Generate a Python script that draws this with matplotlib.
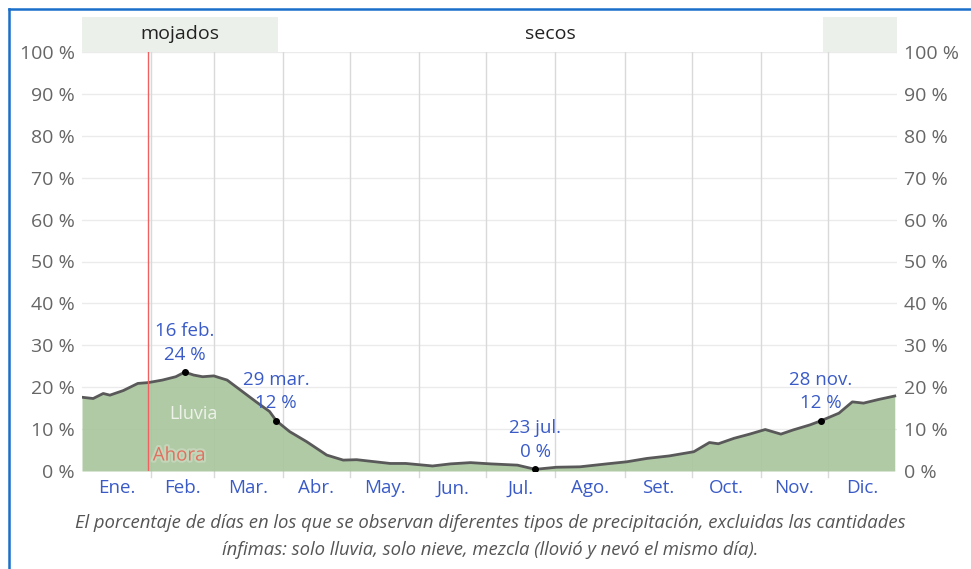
import matplotlib.pyplot as plt
import matplotlib.patheffects as pe
from matplotlib.patches import Rectangle
from matplotlib.lines import Line2D

plt.rcParams['font.family'] = ['Open Sans', 'DejaVu Sans']

# Datos (día del año, % de días con lluvia)
dias = [0, 5, 9.5, 12.5, 18.5, 25, 29.7, 36, 42, 46, 50, 54, 59, 65, 71, 78, 84, 87,
        93, 100.6, 109.6, 117, 123, 138, 145, 157, 165, 174, 183, 195, 203, 212.6,
        223, 235, 244, 253, 263, 274, 281, 285, 292, 299, 306, 313, 318.5, 326, 331,
        339, 345, 350, 357, 364]
lluvia = [17.6, 17.3, 18.5, 18.1, 19.2, 20.9, 21.1, 21.7, 22.5, 23.6, 22.9, 22.5, 22.7,
          21.7, 19.3, 16.5, 14.2, 12.0, 9.4, 7.0, 3.8, 2.6, 2.7, 1.8, 1.8, 1.2, 1.7,
          2.0, 1.7, 1.4, 0.4, 0.9, 1.0, 1.7, 2.2, 3.0, 3.6, 4.6, 6.8, 6.5, 7.8, 8.8,
          9.9, 8.8, 9.8, 11.0, 12.0, 13.8, 16.5, 16.2, 17.1, 17.9]

meses = ['Ene.', 'Feb.', 'Mar.', 'Abr.', 'May.', 'Jun.', 'Jul.', 'Ago.', 'Set.', 'Oct.', 'Nov.', 'Dic.']
dias_mes = [31, 28, 31, 30, 31, 30, 31, 31, 30, 31, 30, 31]

# Anotaciones: (día, valor, texto)
notas = [(46, 23.6, '16 feb.\n24 %'), (87, 12.0, '29 mar.\n12 %'),
         (203, 0.4, '23 jul.\n0 %'), (331, 12.0, '28 nov.\n12 %')]
hoy = 29.7
temporadas = [(0, 87.8, 'mojados'), (87.8, 331.8, 'secos'), (331.8, 365, 'mojados')]

inicio_mes = [sum(dias_mes[:i]) for i in range(12)]
mitad_mes = [inicio_mes[i] + dias_mes[i] / 2 for i in range(12)]

fig = plt.figure(figsize=(9.71, 5.69), dpi=100)
ax = fig.add_axes([82 / 971, 1 - 471 / 569, 815 / 971, 419 / 569])

ax.set_xlim(0, 365)
ax.set_ylim(0, 100)

# Rejilla
for y in range(0, 101, 10):
    ax.axhline(y, color='#ebebeb', lw=1, zorder=0)
for x in inicio_mes[1:]:
    ax.axvline(x, color='#d9d9d9', lw=1, zorder=0)
    ax.add_line(Line2D([x, x], [0, -0.015], transform=ax.get_xaxis_transform(),
                       color='#d9d9d9', lw=1, clip_on=False))

ax.fill_between(dias, lluvia, 0, color='#a9c59d', alpha=0.9, lw=0, zorder=2)
ax.plot(dias, lluvia, color='#595959', lw=2, zorder=3)

# Ahora
ax.axvline(hoy, color='#f06060', lw=1, zorder=4)
ax.text(hoy + 2, 2.5, 'Ahora', color='#e07060', fontsize=13.5, zorder=5,
        path_effects=[pe.withStroke(linewidth=3, foreground='#c3d6b9')])
ax.text(50, 12.5, 'Lluvia', color='#eef3ea', fontsize=13, ha='center', zorder=5)

for d, v, t in notas:
    ax.plot(d, v, 'o', color='black', ms=4, zorder=6)
    ax.annotate(t, (d, v), xytext=(0, 6), textcoords='offset points', ha='center',
                va='bottom', color='#3a5bc7', fontsize=13.5, linespacing=1.4, zorder=6)

# Bandas de temporada
trans = ax.get_xaxis_transform()
for a, b, nombre in temporadas:
    if nombre == 'mojados':
        ax.add_patch(Rectangle((a, 1.0), b - a, 0.0835, transform=trans,
                               facecolor='#ecf0ea', edgecolor='none', clip_on=False))
for a, b, nombre in temporadas[:2]:
    ax.text((a + b) / 2, 1.042, nombre, transform=trans, ha='center', va='center',
            fontsize=14, color='#222222')

for s in ax.spines.values():
    s.set_visible(False)

ax.set_xticks(mitad_mes)
ax.set_xticklabels(meses, color='#3a5bc7', fontsize=13.5)
ax.tick_params(axis='x', length=0, pad=6)
ax.set_yticks(range(0, 101, 10))
ax.set_yticklabels([f'{v} %' for v in range(0, 101, 10)], color='#666666', fontsize=14)
ax.tick_params(axis='y', length=0, pad=5, labelright=True)

fig.text(0.505, 1 - 523 / 569, 'El porcentaje de días en los que se observan diferentes tipos de precipitación, excluidas las cantidades',
         ha='center', va='center', style='italic', color='#555555', fontsize=13.3)
fig.text(0.505, 1 - 550 / 569, 'ínfimas: solo lluvia, solo nieve, mezcla (llovió y nevó el mismo día).',
         ha='center', va='center', style='italic', color='#555555', fontsize=13.3)

# Marco azul
fig.add_artist(Line2D([8.5 / 971, 8.5 / 971], [0, 1 - 8.5 / 569], color='#1a6fc9', lw=1.8))
fig.add_artist(Line2D([8.5 / 971, 1], [1 - 8.5 / 569, 1 - 8.5 / 569], color='#1a6fc9', lw=1.8))

fig.savefig('out.png', dpi=100)
